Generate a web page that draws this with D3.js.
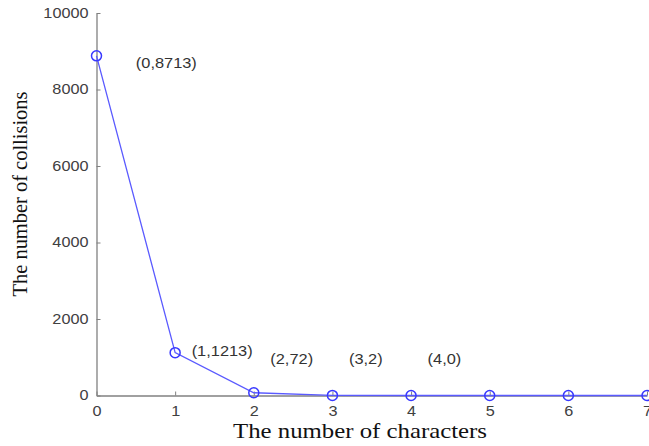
<!DOCTYPE html>
<html><head><meta charset="utf-8">
<script src="https://cdn.jsdelivr.net/npm/d3@7"></script>
<style>body{margin:0;background:#fff}svg{display:block}</style>
</head><body>
<script>
const xValues = [0, 1, 2, 3, 4, 5, 6, 7];
const yValues = [8880, 1120, 72, 2, 0, 0, 0, 0];
const pointLabels = ["(0,8713)", "(1,1213)", "(2,72)", "(3,2)", "(4,0)"];
const labelX = [0.5, 1.21, 2.21, 3.21, 4.21];
const labelY = [8700, 1163, 954, 954, 954];
const yTicks = [0, 2000, 4000, 6000, 8000, 10000];
const xTicks = [0, 1, 2, 3, 4, 5, 6, 7];

const W = 649, H = 446;
const svg = d3.select("body").append("svg").attr("width", W).attr("height", H);
const x = d3.scaleLinear().domain([0, 7]).range([96.5, 647]);
const y = d3.scaleLinear().domain([0, 10000]).range([395.5, 13]);

function stretch(sel, f) {
  sel.each(function () {
    const l = this.getComputedTextLength();
    d3.select(this).attr("textLength", l * f).attr("lengthAdjust", "spacingAndGlyphs");
  });
}

const axisColor = "#808080";
const gx = svg.append("g").attr("transform", `translate(0,${y(0)})`)
  .call(d3.axisBottom(x).tickValues(xTicks).tickFormat(d3.format("d")).tickSizeInner(-4).tickSizeOuter(0).tickPadding(11));
const gy = svg.append("g").attr("transform", `translate(${x(0)},0)`)
  .call(d3.axisLeft(y).tickValues(yTicks).tickFormat(d3.format("d")).tickSizeInner(-4).tickSizeOuter(0).tickPadding(8));
[gx, gy].forEach(g => {
  g.select(".domain").attr("stroke", axisColor).attr("stroke-width", 1.3);
  g.selectAll(".tick line").attr("stroke", axisColor);
  g.selectAll(".tick text").attr("fill", "#404040").attr("font-family", "Liberation Sans, Arial, sans-serif").attr("font-size", 14);
  stretch(g.selectAll(".tick text"), 1.16);
});
gx.selectAll(".tick text").attr("dy", "0.71em");

const data = xValues.map((v, i) => ({x: v, y: yValues[i]}));
svg.append("path").datum(data)
  .attr("fill", "none").attr("stroke", "#5a5aff").attr("stroke-width", 1.3)
  .attr("d", d3.line().x(d => x(d.x)).y(d => y(d.y)));
svg.selectAll("circle.pt").data(data).enter().append("circle")
  .attr("class", "pt").attr("cx", d => x(d.x)).attr("cy", d => y(d.y)).attr("r", 5)
  .attr("fill", "none").attr("stroke", "#3838ff").attr("stroke-width", 1.5);

const lbls = svg.selectAll("text.lbl").data(pointLabels).enter().append("text")
  .attr("class", "lbl").attr("x", (d, i) => x(labelX[i])).attr("y", (d, i) => y(labelY[i]))
  .attr("dy", "0.35em").attr("fill", "#333").attr("font-family", "Liberation Sans, Arial, sans-serif")
  .attr("font-size", 14).text(d => d);
stretch(lbls, 1.17);

const xt = svg.append("text").attr("x", 360).attr("y", 438).attr("text-anchor", "middle")
  .attr("font-family", "Liberation Serif, Times New Roman, serif").attr("font-size", 21).attr("fill", "#111")
  .text("The number of characters");
xt.attr("textLength", 254).attr("lengthAdjust", "spacingAndGlyphs");
const yt = svg.append("text").attr("transform", "translate(27,194) rotate(-90)").attr("text-anchor", "middle")
  .attr("font-family", "Liberation Serif, Times New Roman, serif").attr("font-size", 20).attr("fill", "#111")
  .text("The number of collisions");
yt.attr("textLength", 205).attr("lengthAdjust", "spacingAndGlyphs");
</script>
</body></html>
